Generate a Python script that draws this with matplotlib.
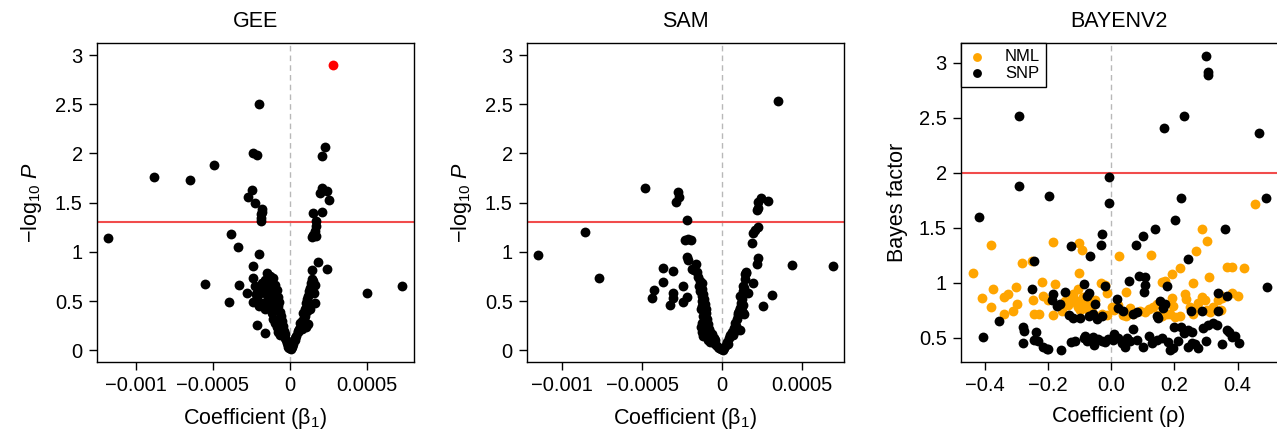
import numpy as np
import matplotlib
matplotlib.use("Agg")
from matplotlib import pyplot as plt

plt.rcParams['font.family'] = ['Liberation Sans', 'DejaVu Sans']
plt.rcParams['mathtext.fontset'] = 'custom'
plt.rcParams['mathtext.rm'] = 'Liberation Sans'
plt.rcParams['mathtext.it'] = 'Liberation Sans:italic'

# ---- GEE (coefficient in units of 1e-4, -log10 P) ----
gee_beta_e4 = [-11.8, -8.83, -6.49, -4.94, -1.99, -2.38, -2.12, 2.29, 2.08,
               -2.73, -2.45, -2.28, -1.82, -1.84, -1.86, -1.88, -1.90,
               2.08, 1.93, 2.38, 2.50, 1.52, 2.06, 1.69, 1.72, 1.52, 1.69, 1.60, 1.45,
               -3.85, -3.40, -1.99, -2.38, 1.80, 2.38, 1.41,
               -5.50, -3.29, -2.81, -3.94, 4.98, 7.29, -2.12, -1.62,
               -2.42, -2.27, -2.16, -2.38, -1.99, -1.73, -1.52, -1.30, -1.08, -1.62,
               -1.41, -1.19, -0.87, -1.95, -1.52, -0.97, -0.76, -1.30, -1.08, -0.69,
               -1.41, -0.87, -1.19, -0.65, -1.13, -1.84, -2.05, -1.25, -1.00, -1.70,
               -2.20, -1.35, -0.90, -1.60, -1.15, -0.80,
               -0.50, -0.45, -0.55, -0.40, -0.35, -0.30, -0.25, -0.20, -0.15, -0.10,
               -0.05, -0.60, -0.70, -0.65, -0.95, -0.85, -0.75, -0.58,
               0.10, 0.20, 0.30, 0.40, 0.50, 0.60, 0.70, 0.80, 0.90, 0.65, 0.85, 1.00,
               1.05, 1.10, 1.20, 1.25, 1.30, 1.35, 1.40, 1.50, 1.45, 1.55, 1.20, 1.00,
               1.10, 1.60, 1.62, 0.75, 0.95, 1.30, 1.04, 1.19, 0.05, 0.15, 0.35, 0.55]
gee_logp = [1.14, 1.76, 1.73, 1.88, 2.50, 2.00, 1.98, 2.07, 1.97,
            1.56, 1.63, 1.50, 1.44, 1.41, 1.38, 1.34, 1.31,
            1.65, 1.60, 1.62, 1.53, 1.39, 1.40, 1.31, 1.26, 1.17, 1.16, 1.21, 1.15,
            1.18, 1.05, 0.98, 0.86, 0.90, 0.83, 0.82,
            0.67, 0.66, 0.58, 0.49, 0.58, 0.65, 0.255, 0.17,
            0.73, 0.65, 0.54, 0.49, 0.45, 0.48, 0.78, 0.75, 0.73, 0.71,
            0.65, 0.63, 0.61, 0.58, 0.56, 0.58, 0.54, 0.53, 0.51, 0.49,
            0.46, 0.44, 0.43, 0.39, 0.32, 0.68, 0.62, 0.70, 0.66, 0.60,
            0.57, 0.50, 0.47, 0.42, 0.38, 0.45,
            0.30, 0.25, 0.22, 0.20, 0.16, 0.12, 0.10, 0.07, 0.05, 0.03,
            0.02, 0.27, 0.20, 0.15, 0.28, 0.24, 0.18, 0.35,
            0.03, 0.06, 0.10, 0.14, 0.18, 0.22, 0.26, 0.30, 0.33, 0.28, 0.38, 0.42,
            0.48, 0.52, 0.55, 0.60, 0.63, 0.68, 0.72, 0.70, 0.62, 0.58, 0.45, 0.35,
            0.40, 0.66, 0.48, 0.22, 0.27, 0.42, 0.24, 0.27, 0.01, 0.04, 0.12, 0.20]
gee_signif = [2.77]   # highlighted point
gee_signif_logp = [2.90]

# ---- SAM ----
sam_beta_e4 = [3.50, -11.5, -8.56, -7.73, -4.81, -2.75, -2.69, -2.90, -2.23,
               -2.33, -2.13, -1.98, -2.23, -2.13, -1.67, -1.92, -3.73, -3.06,
               -3.69, -2.44, -4.25, -4.42, -3.10, -3.06, -3.27, -2.23, -2.48,
               4.38, 6.90, 3.10, 2.56, 2.83, 2.40, 2.25, 2.25, 2.15, 2.25, 2.04,
               1.94, 1.83, 2.25, 2.15, 1.94, 1.48, 1.42, 1.63, 1.31, 1.10, 1.35, 1.31,
               -1.40, -1.30, -1.25, -1.20, -1.15, -1.10, -1.30, -1.35, -1.05, -1.00,
               -1.20, -1.30, -1.35, -1.30, -1.20, -1.10, -0.95, -0.90, -0.85, -1.00,
               -0.80, -0.75, -0.70, -0.60, -0.50, -0.40, -0.30, -0.20, -0.10, -0.90,
               -0.65, -1.15, -1.25, -1.05, -0.55, -0.45, -1.45, -1.50, -1.60, -1.75,
               -1.40, -1.10, -0.80, -1.25,
               0.10, 0.20, 0.30, 0.40, 0.50, 0.60, 0.70, 0.80, 0.90, 1.00, 1.05,
               1.10, 0.95, 1.15, 1.20, 1.25, 1.30, 1.35, 1.10, 0.85, 0.65, 1.20,
               1.30, 1.40, 1.50, 0.05, 0.35, 0.75]
sam_logp = [2.53, 0.97, 1.20, 0.73, 1.65, 1.61, 1.56, 1.51, 1.32,
            1.12, 1.13, 1.12, 0.95, 0.92, 0.88, 0.83, 0.84, 0.81,
            0.69, 0.65, 0.61, 0.53, 0.58, 0.53, 0.46, 0.54, 0.49,
            0.87, 0.86, 0.56, 0.45, 1.52, 1.55, 1.51, 1.45, 1.43, 1.25, 1.22,
            1.19, 1.09, 0.94, 0.88, 0.68, 0.80, 0.77, 0.58, 0.65, 0.21, 0.37, 0.46,
            0.70, 0.68, 0.62, 0.57, 0.52, 0.47, 0.50, 0.42, 0.42, 0.38,
            0.35, 0.28, 0.24, 0.18, 0.14, 0.20, 0.32, 0.27, 0.22, 0.15,
            0.18, 0.14, 0.11, 0.09, 0.07, 0.05, 0.03, 0.02, 0.01, 0.10,
            0.16, 0.30, 0.45, 0.25, 0.12, 0.10, 0.65, 0.74, 0.79, 0.82,
            0.60, 0.40, 0.08, 0.55,
            0.02, 0.05, 0.08, 0.12, 0.15, 0.19, 0.23, 0.28, 0.32, 0.36, 0.40,
            0.43, 0.38, 0.48, 0.52, 0.55, 0.60, 0.63, 0.55, 0.25, 0.15, 0.40,
            0.38, 0.72, 0.78, 0.00, 0.06, 0.18]

# ---- BAYENV2 (rho, Bayes factor) ----
snp_rho = [0.299, 0.305, 0.307, -0.291, 0.229, 0.166, 0.468, -0.006, -0.006,
           -0.291, -0.196, 0.221, 0.489, -0.419, 0.202, 0.139, 0.360, -0.028,
           0.099, -0.033, -0.129, 0.079, -0.068, 0.244, -0.245, 0.055, 0.088,
           0.107, 0.492, -0.250, -0.085, -0.020, 0.177, 0.107, 0.104, 0.337,
           0.368, -0.072, -0.076, -0.186, -0.189, -0.162, -0.173, -0.146, 0.017,
           -0.052, 0.154, 0.170, 0.165, 0.252, 0.286, 0.337, 0.022, 0.038,
           -0.057, -0.072, -0.028, -0.133, -0.120, -0.355, -0.099, -0.044,
           0.070, 0.082, 0.144, 0.149, -0.279, -0.275, -0.237, 0.198, 0.220,
           0.244, 0.290, 0.306, 0.322, 0.336, 0.368, 0.373, -0.405, -0.279,
           -0.245, -0.231, -0.217, -0.205, -0.200, -0.159, -0.126, -0.115,
           -0.087, -0.078, -0.068, -0.057, -0.041, -0.030, -0.020, -0.084,
           -0.054, 0.010, 0.022, 0.033, 0.044, 0.059, 0.080, 0.102, 0.128,
           0.144, 0.160, 0.181, 0.186, 0.197, 0.213, 0.230, 0.244, 0.255,
           0.265, 0.276, 0.300, 0.352, 0.381, 0.391, 0.404, 0.005, 0.050,
           0.120, 0.255, -0.010, 0.070]
snp_bf = [3.06, 2.92, 2.89, 2.52, 2.52, 2.41, 2.36, 1.96, 1.73,
          1.88, 1.79, 1.77, 1.77, 1.60, 1.57, 1.49, 1.49, 1.44,
          1.43, 1.34, 1.33, 1.34, 1.24, 1.22, 1.20, 1.02, 1.06,
          1.05, 0.96, 0.94, 0.99, 0.97, 0.97, 0.98, 0.92, 0.91,
          0.88, 0.91, 0.88, 0.90, 0.84, 0.81, 0.79, 0.92, 0.85,
          0.81, 0.83, 0.81, 0.77, 0.74, 0.74, 0.74, 0.77, 0.74,
          0.72, 0.70, 0.70, 0.71, 0.68, 0.65, 0.68, 0.67,
          0.72, 0.73, 0.70, 0.68, 0.60, 0.56, 0.55, 0.60, 0.60,
          0.57, 0.59, 0.62, 0.63, 0.62, 0.57, 0.55, 0.51, 0.45,
          0.48, 0.47, 0.42, 0.40, 0.40, 0.39, 0.46, 0.47,
          0.50, 0.47, 0.49, 0.51, 0.49, 0.47, 0.46, 0.52,
          0.43, 0.53, 0.50, 0.45, 0.42, 0.47, 0.48, 0.42, 0.45,
          0.48, 0.50, 0.46, 0.39, 0.41, 0.47, 0.54, 0.42, 0.45,
          0.44, 0.41, 0.47, 0.44, 0.51, 0.52, 0.45, 0.48, 0.50,
          0.52, 0.55, 0.49, 0.58]
nml_rho = [-0.439, -0.382, -0.411, -0.382, -0.374, -0.340, -0.340, -0.326,
           -0.310, -0.302, -0.298, -0.283, -0.252, -0.249, -0.245, -0.228,
           -0.221, -0.215, -0.201, -0.184, -0.178, -0.186, -0.157, -0.147,
           -0.136, -0.125, -0.115, -0.109, -0.104, -0.099, -0.094, -0.088,
           -0.083, -0.078, -0.068, -0.062, -0.101, -0.094, -0.101, -0.120,
           -0.104, -0.034, -0.015, -0.030, -0.015, 0.001, 0.009, 0.022, 0.038,
           0.048, 0.024, 0.046, 0.070, 0.091, 0.107, 0.118, 0.133, 0.149,
           0.160, 0.176, 0.125, 0.160, 0.170, 0.191, 0.196, 0.186, 0.193,
           0.217, 0.233, 0.238, 0.249, 0.260, 0.270, 0.276, 0.286, 0.296,
           0.302, 0.312, 0.323, 0.339, 0.349, 0.260, 0.268, 0.287, 0.302,
           0.309, 0.345, 0.350, 0.368, 0.381, 0.383, 0.402, 0.421, 0.455,
           0.217, 0.202, 0.060, 0.145, -0.050, -0.020]
nml_bf = [1.09, 1.34, 0.86, 0.78, 0.94, 0.87, 0.72, 0.90,
          0.74, 0.96, 0.81, 1.18, 1.20, 0.84, 0.72, 0.72,
          1.01, 0.88, 0.84, 1.37, 0.99, 0.71, 0.74, 0.83,
          0.80, 0.86, 0.84, 0.81, 0.78, 0.75, 0.83, 0.87,
          0.79, 0.76, 0.82, 0.73, 1.36, 1.30, 1.09, 0.90,
          0.94, 1.00, 0.91, 0.72, 0.71, 0.78, 0.75, 0.80, 0.71,
          0.70, 1.24, 0.92, 0.72, 0.74, 0.73, 0.76, 0.78, 0.71,
          0.70, 0.72, 1.25, 1.01, 1.02, 0.86, 0.79, 0.72, 1.08,
          1.13, 0.90, 0.85, 0.78, 0.72, 0.76, 0.82, 0.87, 0.84,
          0.75, 0.73, 0.78, 0.84, 0.75, 1.00, 1.29, 1.49, 1.38,
          1.05, 0.89, 0.86, 1.14, 1.14, 0.91, 0.88, 1.13, 1.72,
          0.70, 0.69, 0.77, 0.81, 0.84, 0.98]

W, H = 1277, 433
fig = plt.figure(figsize=(W / 100, H / 100), dpi=100)

red = '#f14c4c'
orange = '#ffa500'
dot = 50
fs_tick = 14.5
fs_lab = 15.5


def px_axes(x0, x1, y0, y1):
    return fig.add_axes([x0 / W, 1 - y1 / H, (x1 - x0) / W, (y1 - y0) / H])


def style(ax):
    for s in ax.spines.values():
        s.set_linewidth(1.0)
        s.set_color('black')
    ax.tick_params(direction='out', length=6, width=1, labelsize=fs_tick, pad=4,
                   top=False, right=False)


def fmt(v):
    if abs(v) < 1e-12:
        return '0'
    s = ('%.4f' % v).rstrip('0').rstrip('.')
    return s.replace('-', '\u2212')


ylab = r'$\mathrm{-log}_{10}\ \mathit{P}$'
xlab_b = 'Coefficient (\u03b2$_1$)'

# panel 1
ax1 = px_axes(96.7, 414, 43.3, 362)
ax1.axvline(0, color='#b8b8b8', ls=(0, (4, 3)), lw=1, zorder=1)
ax1.axhline(1.301, color=red, lw=1.5, zorder=1)
ax1.scatter(np.array(gee_beta_e4) * 1e-4, gee_logp, s=dot, c='black', lw=0, zorder=3)
ax1.scatter(np.array(gee_signif) * 1e-4, gee_signif_logp, s=dot, c='red', lw=0, zorder=3)
ax1.set_xlim(-1.255e-3, 0.805e-3)
ax1.set_ylim(-0.12, 3.12)

# panel 2
ax2 = px_axes(526.7, 844, 43.3, 362)
ax2.axvline(0, color='#b8b8b8', ls=(0, (4, 3)), lw=1, zorder=1)
ax2.axhline(1.301, color=red, lw=1.5, zorder=1)
ax2.scatter(np.array(sam_beta_e4) * 1e-4, sam_logp, s=dot, c='black', lw=0, zorder=3)
ax2.set_xlim(-1.2225e-3, 0.7606e-3)
ax2.set_ylim(-0.12, 3.12)

for ax, title in [(ax1, 'GEE'), (ax2, 'SAM')]:
    style(ax)
    xt = [-0.001, -0.0005, 0, 0.0005]
    ax.set_xticks(xt)
    ax.set_xticklabels([fmt(v) for v in xt])
    yt = [0, 0.5, 1, 1.5, 2, 2.5, 3]
    ax.set_yticks(yt)
    ax.set_yticklabels([fmt(v) for v in yt])
    ax.set_title(title, fontsize=fs_lab, pad=12)
    ax.set_xlabel(xlab_b, fontsize=fs_lab, labelpad=8)
    ax.set_ylabel(ylab, fontsize=fs_lab, labelpad=8)

# panel 3
ax3 = px_axes(960.7, 1277.6, 43.3, 362)
ax3.axvline(0, color='#b8b8b8', ls=(0, (4, 3)), lw=1, zorder=1)
ax3.axhline(2, color=red, lw=1.5, zorder=1)
ax3.scatter(nml_rho, nml_bf, s=dot, c=orange, lw=0, zorder=3, label='NML')
ax3.scatter(snp_rho, snp_bf, s=dot, c='black', lw=0, zorder=4, label='SNP')
ax3.set_xlim(-0.477, 0.527)
ax3.set_ylim(0.279, 3.179)
style(ax3)
ax3.set_xticks([-0.4, -0.2, 0, 0.2, 0.4])
ax3.set_xticklabels(['\u22120.4', '\u22120.2', '0.0', '0.2', '0.4'])
ax3.set_yticks([0.5, 1, 1.5, 2, 2.5, 3])
ax3.set_yticklabels(['0.5', '1', '1.5', '2', '2.5', '3'])
ax3.set_title('BAYENV2', fontsize=fs_lab, pad=12)
ax3.set_xlabel('Coefficient (\u03c1)', fontsize=fs_lab, labelpad=8)
ax3.set_ylabel('Bayes factor', fontsize=fs_lab, labelpad=8)
leg = ax3.legend(loc='upper left', borderaxespad=0, fancybox=False,
                 edgecolor='black', framealpha=1, fontsize=12,
                 handletextpad=1.0, borderpad=0.35, labelspacing=0.1,
                 handlelength=1.3, markerscale=0.9)
leg.get_frame().set_linewidth(1.0)

fig.savefig('out.png', dpi=100)
